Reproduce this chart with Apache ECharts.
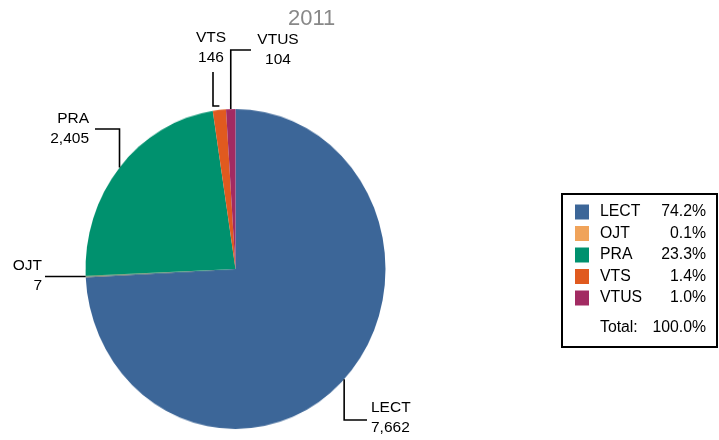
<!DOCTYPE html>
<html>
<head>
<meta charset="utf-8">
<script src="https://cdn.jsdelivr.net/npm/echarts@6/dist/echarts.min.js"></script>
<style>
  html, body { margin: 0; padding: 0; background: #fff; }
  #wrap { position: relative; width: 719px; height: 440px; overflow: hidden; }
  #pizza, #rotulos { position: absolute; left: 0; top: 0; width: 719px; height: 440px; }
  /* the original pie is a bit taller than wide */
  #pizza { transform: scaleY(1.0667); transform-origin: 0 269px; }
</style>
</head>
<body>
<div id="wrap">
  <div id="pizza"></div>
  <div id="rotulos"></div>
</div>
<script>
var titulo = '2011';
var categorias = ['LECT', 'OJT', 'PRA', 'VTS', 'VTUS'];
var valores = [7662, 7, 2405, 146, 104];
var cores = ['#3c6698', '#f0a35a', '#00916e', '#e05a1f', '#a22b62'];

var total = valores.reduce(function (a, b) { return a + b; }, 0);
var percentuais = valores.map(function (v) { return (v / total * 100).toFixed(1) + '%'; });
var dados = categorias.map(function (c, i) { return { name: c, value: valores[i] }; });

var fonte = '"Liberation Sans", Arial, sans-serif';
var centro = [235.5, 269];
var raio = 150;
var escalaY = 160 / 150;

// pie only (stretched by css)
{
  var chartPizza = echarts.init(document.getElementById('pizza'));
  chartPizza.setOption({
    animation: false,
    color: cores,
    series: [
      {
        type: 'pie',
        silent: true,
        center: centro,
        radius: raio,
        startAngle: 90,
        itemStyle: { borderWidth: 0 },
        label: { show: false },
        labelLine: { show: false },
        data: dados
      }
    ]
  });
}

// title, labels, legend
{
  function rotulo(p) {
    var e = p.labelLinePoints && p.labelLinePoints[0];
    var x0 = e[0];
    var y0 = centro[1] + (e[1] - centro[1]) * escalaY;
    switch (p.dataIndex) {
      case 0:
        return { x: 371, y: 418, align: 'left', verticalAlign: 'middle',
          labelLinePoints: [[x0, y0], [x0, 420], [367, 420]] };
      case 1:
        return { x: 42, y: 276, align: 'right', verticalAlign: 'middle',
          labelLinePoints: [[x0, y0], [45, y0], [45, y0]] };
      case 2:
        return { x: 89, y: 129, align: 'right', verticalAlign: 'middle',
          labelLinePoints: [[x0, y0], [x0, 129], [95, 129]] };
      case 3:
        return { x: 211, y: 48, align: 'center', verticalAlign: 'middle',
          labelLinePoints: [[x0, y0 - 4], [213, y0 - 4], [213, 72]] };
      case 4:
        return { x: 278, y: 50, align: 'center', verticalAlign: 'middle',
          labelLinePoints: [[x0, y0], [x0, 50], [251, 50]] };
    }
  }

  var chartRotulos = echarts.init(document.getElementById('rotulos'));
  chartRotulos.setOption({
    animation: false,
    textStyle: { fontFamily: fonte },
    title: {
      text: titulo,
      left: 283,
      top: 3,
      textStyle: { fontSize: 22, fontWeight: 'normal', color: '#888888', fontFamily: fonte }
    },
    legend: {
      orient: 'vertical',
      left: 575,
      top: 204,
      padding: 0,
      itemWidth: 14,
      itemHeight: 15,
      itemGap: 5.5,
      icon: 'rect',
      selectedMode: false,
      itemStyle: { opacity: 1 },
      data: categorias.map(function (c, i) {
        return { name: c, itemStyle: { color: cores[i], opacity: 1 } };
      }),
      formatter: function (name) {
        var i = categorias.indexOf(name);
        return '{n|' + name + '}{p|' + percentuais[i] + '}';
      },
      textStyle: {
        rich: {
          n: { width: 60, padding: [0, 0, 0, 6], fontSize: 15.8, lineHeight: 15, color: '#000', fontFamily: fonte },
          p: { width: 46, align: 'right', fontSize: 15.8, lineHeight: 15, color: '#000', fontFamily: fonte }
        }
      }
    },
    graphic: [
      {
        type: 'rect',
        silent: true,
        shape: { x: 562, y: 194, width: 155, height: 153 },
        style: { fill: 'none', stroke: '#000', lineWidth: 2 }
      },
      {
        type: 'text',
        x: 600, y: 328,
        style: { text: 'Total:', fontSize: 15.8, fontFamily: fonte, fill: '#000', verticalAlign: 'middle', align: 'left' }
      },
      {
        type: 'text',
        x: 706, y: 328,
        style: { text: (total / total * 100).toFixed(1) + '%', fontSize: 15.8, fontFamily: fonte, fill: '#000', verticalAlign: 'middle', align: 'right' }
      }
    ],
    series: [
      {
        type: 'pie',
        silent: true,
        center: centro,
        radius: raio,
        startAngle: 90,
        avoidLabelOverlap: false,
        itemStyle: { color: 'rgba(0,0,0,0)', borderWidth: 0 },
        label: {
          show: true,
          position: 'outside',
          color: '#000',
          fontSize: 15.5,
          lineHeight: 20,
          fontFamily: fonte,
          formatter: function (p) {
            return p.name + '\n' + p.value.toLocaleString('en-US');
          }
        },
        labelLine: { show: true, lineStyle: { color: '#000', width: 1.6 } },
        labelLayout: rotulo,
        data: dados
      }
    ]
  });
}
</script>
</body>
</html>
